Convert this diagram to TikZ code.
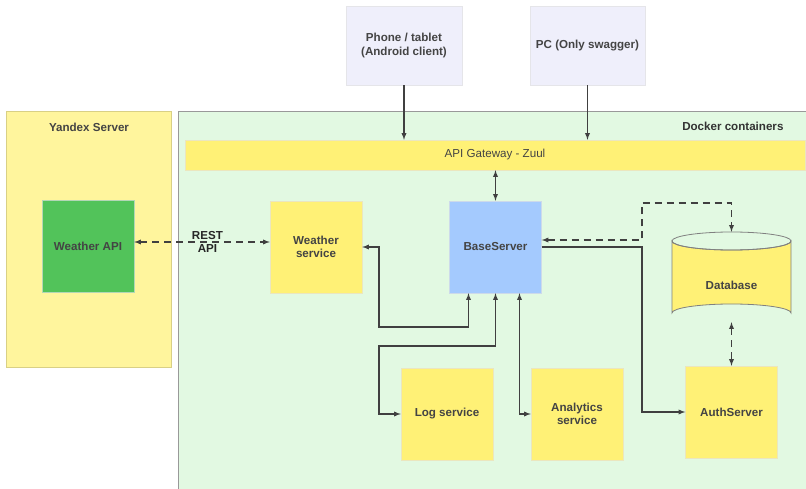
\documentclass[tikz,border=0pt]{standalone}
\usepackage{fontspec}
\setmainfont{Liberation Sans}
\usepackage{tikz}
\usetikzlibrary{arrows,calc}

\definecolor{dockbg}{HTML}{E2F9E2}
\definecolor{yanbg}{HTML}{FFF59D}
\definecolor{svc}{HTML}{FFF176}
\definecolor{wapi}{HTML}{52C35A}
\definecolor{srv}{HTML}{A4CAFE}
\definecolor{cli}{HTML}{EFEFFB}
\definecolor{ln}{HTML}{404040}
\definecolor{txt}{HTML}{444444}

\tikzset{
  box/.style={draw=#1!80!black!40, fill=#1, minimum width=92pt, minimum height=92pt,
    align=center, font=\fontsize{11.6}{13.5}\selectfont\bfseries, text=txt},
  conn/.style={draw=ln, line width=1.3pt},
  dsh/.style={conn, dash pattern=on 7pt off 5pt},
  >=latex
}

\begin{document}
\begin{tikzpicture}[x=1pt,y=-1pt]
  \clip (0,0) rectangle (806,489);
  \fill[white] (0,0) rectangle (806,489);
  \draw[fill=yanbg, draw=yanbg!85!black] (6,111) rectangle (171,367);
  \draw[fill=dockbg, draw=gray!80] (178,111) rectangle (812,495);
  \node[font=\fontsize{11.6}{13.5}\selectfont\bfseries, text=txt] (yan) at (89,127) {Yandex Server};
  \node[font=\fontsize{11.6}{13.5}\selectfont\bfseries, text=black!80, anchor=east] (dock) at (787,126) {Docker containers};

  \node[box=cli, minimum width=116pt, minimum height=79pt] (phone) at (404,45.5) {Phone / tablet\\(Android client)};
  \node[box=cli, minimum width=115pt, minimum height=79pt] (pc) at (587.5,45.5) {PC (Only swagger)};
  \node[box=svc, minimum width=620pt, minimum height=30pt, font=\fontsize{11.6}{13.5}\selectfont] (gw) at (495,155) {API Gateway - Zuul};

  \node[box=wapi] (wapi) at (88,246) {Weather API};
  \node[box=svc] (ws) at (316,247) {Weather\\service};
  \node[box=srv] (base) at (495.5,247) {BaseServer};
  \node[box=svc] (log) at (447,414) {Log service};
  \node[box=svc] (ana) at (577,414) {Analytics\\service};
  \node[box=svc, minimum height=92pt] (auth) at (731.5,412) {AuthServer};

  \node[minimum width=119pt, minimum height=90pt, inner sep=0pt] (db) at (731.5,277) {};
  \filldraw[fill=svc, draw=gray, line width=0.8pt] (672,241) -- (672,313)
    arc[start angle=180, end angle=360, x radius=59.5, y radius=9] -- (791,241)
    arc[start angle=0, end angle=180, x radius=59.5, y radius=9] -- cycle;
  \draw[draw=gray, line width=0.8pt] (731.5,241) ellipse [x radius=59.5, y radius=9];
  \node[font=\fontsize{11.6}{13.5}\selectfont\bfseries, text=txt] (dbl) at ([yshift=-8pt]db.center) {Database};

  \draw[conn,->] (phone.south) -- (phone.south |- gw.north);
  \draw[conn,->] (pc.south) -- (pc.south |- gw.north);
  \draw[conn,<->] (base.north |- gw.south) -- (base.north);
  \draw[dsh,<->] ([yshift=4pt]wapi.east) -- ([yshift=4pt]wapi.east -| ws.west)
    node[pos=0.54, align=center, font=\fontsize{11.6}{12.5}\selectfont\bfseries, text=black!85] (rest) {REST\\API};
  \draw[conn,<->] ([xshift=-27pt]base.south) |- (379,327) |- (ws.east);
  \draw[conn,<->] (base.south) |- (379,346) |- (log.west);
  \draw[conn,<->] ([xshift=24pt]base.south) |- (ana.west);
  \draw[conn,->] (base.east) -- (642,247) |- (auth.west);
  \draw[dsh,<->] ([yshift=7pt]base.east) -| (642,203) -| (db.north);
  \draw[dsh,<->] (db.south) -- (auth.north);
\end{tikzpicture}
\end{document}
